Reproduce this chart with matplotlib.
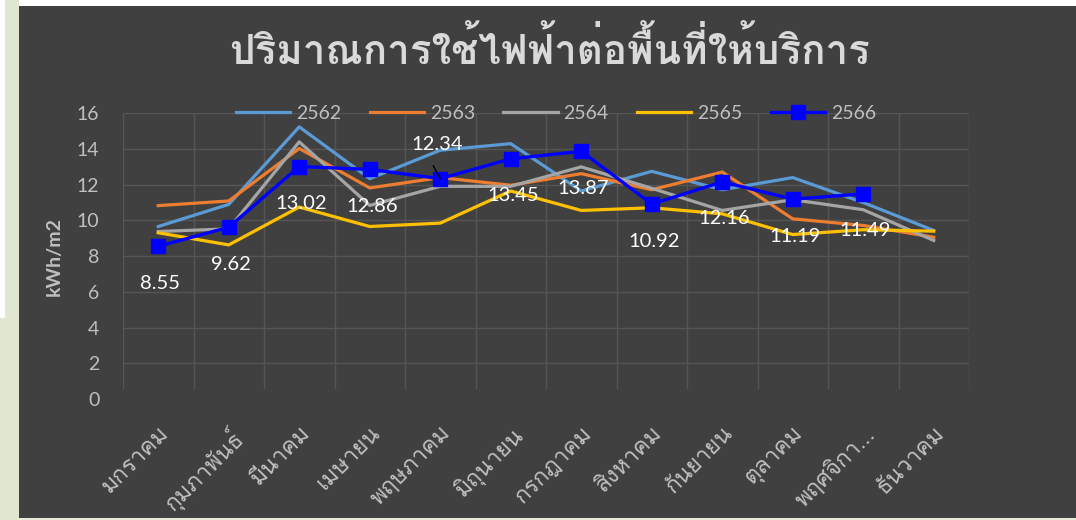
import matplotlib
matplotlib.use("Agg")
import matplotlib.pyplot as plt
from matplotlib.patches import Rectangle
import numpy as np

# ---------------- data ----------------
months = ["มกราคม", "กุมภาพันธ์", "มีนาคม", "เมษายน", "พฤษภาคม", "มิถุนายน",
          "กรกฎาคม", "สิงหาคม", "กันยายน", "ตุลาคม", "พฤศจิกา...", "ธันวาคม"]
series_names = ["2562", "2563", "2564", "2565", "2566"]
y2562 = [9.66, 10.9, 15.24, 12.34, 13.93, 14.3, 11.65, 12.75, 11.72, 12.4, 11.0, 9.44]
y2563 = [10.83, 11.09, 14.03, 11.82, 12.4, 11.97, 12.62, 11.72, 12.71, 10.09, 9.72, 9.06]
y2564 = [9.38, 9.53, 14.4, 10.84, 11.91, 11.91, 13.0, 11.8, 10.56, 11.16, 10.6, 8.88]
y2565 = [9.31, 8.63, 10.75, 9.66, 9.85, 11.65, 10.56, 10.71, 10.37, 9.21, 9.48, 9.4]
y2566 = [8.55, 9.62, 13.02, 12.86, 12.34, 13.45, 13.87, 10.92, 12.16, 11.19, 11.49]
yticks = [0, 2, 4, 6, 8, 10, 12, 14, 16]
title = "ปริมาณการใช้ไฟฟ้าต่อพื้นที่ให้บริการ"
ylabel = "kWh/m2"

# ---------------- fonts ----------------
fam_thai = ["Loma", "Noto Sans Thai Looped", "Lato", "DejaVu Sans"]
fam_latin = ["Lato", "DejaVu Sans"]

BG = "#404040"
GRID = "#555555"
TXT = "#bfbfbf"
colors = ["#5b9bd5", "#ed7d31", "#a5a5a5", "#ffc000", "#0000ff"]

W, H = 1076, 520
fig = plt.figure(figsize=(W / 100, H / 100), dpi=100, facecolor="white")

# surrounding page / chart area
bgkw = dict(transform=fig.transFigure, edgecolor="none", zorder=-10)
fig.patches.append(Rectangle((0, 0), 19 / W, 1, facecolor="#dfe6d2", **bgkw))
fig.patches.append(Rectangle((0, (H - 318) / H), 5 / W, 318 / H, facecolor="white", **bgkw))
fig.patches.append(Rectangle((19 / W, 0), 1, 2 / H, facecolor="#e6ebdb", **bgkw))
fig.patches.append(Rectangle((19 / W, 2 / H), 1, (H - 8) / H, facecolor=BG, **bgkw))

left, right, top, bottom = 123, 969, 113.3, 399
ax = fig.add_axes([left / W, 1 - bottom / H, (right - left) / W, (bottom - top) / H])
ax.set_zorder(1)
ax.set_facecolor("none")

x = np.arange(len(months))
all_series = [y2562, y2563, y2564, y2565, y2566]
for i, (name, ys) in enumerate(zip(series_names, all_series)):
    xs = x[:len(ys)]
    if name == "2566":
        ax.plot(xs, ys, color=colors[i], lw=2.4, marker="s", markersize=10,
                label=name, zorder=5, solid_joinstyle="miter")
    else:
        ax.plot(xs, ys, color=colors[i], lw=2.3, label=name, zorder=3)

ax.set_xlim(-0.5, len(months) - 0.5)
ax.set_ylim(0, 16)
ax.set_yticks(yticks)
ax.set_yticklabels([str(v) for v in yticks], family=fam_latin, fontsize=14, color=TXT)
ax.set_xticks(x)
ax.set_xticklabels(months, family=fam_thai, fontsize=16.5, color=TXT,
                   rotation=45, ha="right", rotation_mode="anchor")
ax.tick_params(axis="y", length=0, pad=17)
ax.tick_params(axis="x", length=0, pad=17)
for s in ax.spines.values():
    s.set_visible(False)

# gridlines
for yv in yticks[1:]:
    ax.axhline(yv, color=GRID, lw=1, zorder=1)
for xv in np.arange(-0.5, len(months)):
    ax.axvline(xv, ymin=0.04, ymax=1, color=GRID, lw=1, zorder=1)

# data labels for 2566
for i, v in enumerate(y2566):
    if i == 4:
        ax.annotate(f"{v:.2f}", xy=(x[i], v), xytext=(-3, 34), textcoords="offset pixels",
                    ha="center", va="center", fontsize=14.5, color="white", family=fam_latin,
                    zorder=6)
        ax.annotate("", xy=(x[i], v), xytext=(-7, 13), textcoords="offset pixels",
                    arrowprops=dict(arrowstyle="-", color="black", lw=1, shrinkA=0, shrinkB=0),
                    zorder=6)
    else:
        ax.annotate(f"{v:.2f}", xy=(x[i], v), xytext=(2, -37), textcoords="offset pixels",
                    ha="center", va="center", fontsize=14.5, color="white", family=fam_latin,
                    zorder=6)

ax.set_ylabel(ylabel, family=fam_latin, fontsize=14, fontweight="bold", color=TXT,
              labelpad=10)

leg = ax.legend(loc="center", bbox_to_anchor=((556 - left) / (right - left), 1.0), ncol=5,
                frameon=False, handlelength=2.8, handletextpad=0.3, columnspacing=1.45,
                prop=dict(family=fam_latin, size=14))
for t in leg.get_texts():
    t.set_color(TXT)

fig.text(550 / W, 1 - 50 / H, title, ha="center", va="center", family=fam_thai,
         fontsize=29, fontweight="bold", color="#d9d9d9")

fig.savefig("out.png", dpi=100, facecolor=fig.get_facecolor())
